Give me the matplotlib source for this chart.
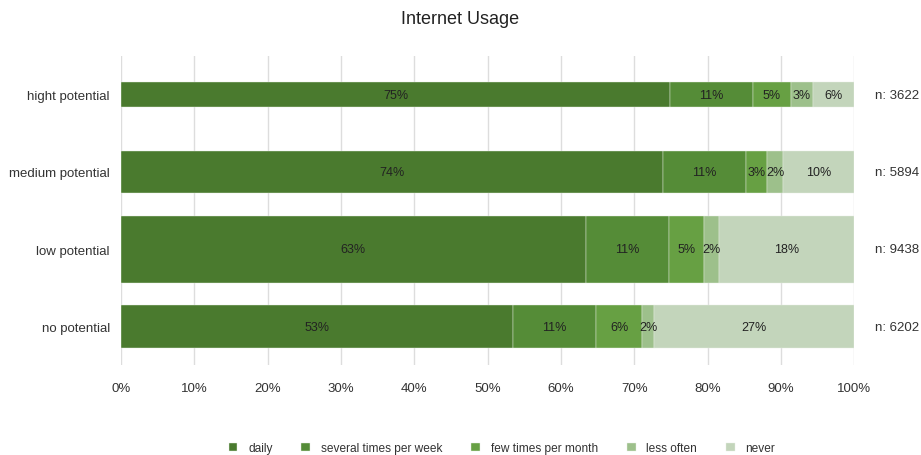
import matplotlib.pyplot as plt
import numpy as np

plt.rcParams['font.family'] = ['Liberation Sans', 'DejaVu Sans']

# data (percent of respondents)
groups = ["hight potential", "medium potential", "low potential", "no potential"]
n_sizes = [3622, 5894, 9438, 6202]
categories = ["daily", "several times per week", "few times per month", "less often", "never"]
daily = [74.9, 73.9, 63.4, 53.4]
several = [11.3, 11.4, 11.4, 11.4]
few = [5.2, 2.8, 4.7, 6.3]
less = [3.0, 2.2, 2.1, 1.6]
never = [5.6, 9.7, 18.4, 27.3]

colors = ["#4a7a2e", "#558c37", "#67a043", "#9dc08b", "#c3d5bb"]

fig = plt.figure(figsize=(9.21, 4.56), dpi=100)
ax = fig.add_axes([0.1314, 0.197, 0.796, 0.678])

y = np.arange(len(groups))
heights = np.array(n_sizes) / max(n_sizes) * 0.865

series = [daily, several, few, less, never]
left = np.zeros(len(groups))
for vals, col, name in zip(series, colors, categories):
    vals = np.array(vals)
    ax.barh(y, vals, left=left, height=heights, color=col, label=name,
            edgecolor="#e8eee4", linewidth=0.3, zorder=2)
    for yi, l, v in zip(y, left, vals):
        ax.text(l + v / 2, yi, f"{round(v):.0f}%", ha="center", va="center",
                fontsize=9, color="#222222", zorder=3)
    left += vals

for yi, n in zip(y, n_sizes):
    ax.text(102.8, yi, f"n: {n}", ha="left", va="center", fontsize=9.5, color="#333333")

ax.set_xlim(0, 100)
ax.set_ylim(len(groups) - 0.5, -0.5)
ax.set_yticks(y)
ax.set_yticklabels(groups, fontsize=9.5, color="#333333")
ax.set_xticks(np.arange(0, 101, 10))
ax.set_xticklabels([f"{t}%" for t in range(0, 101, 10)], fontsize=9.5, color="#333333")
ax.tick_params(axis="both", length=0, pad=8)
ax.tick_params(axis="x", pad=12)
ax.grid(axis="x", color="#dddddd", linewidth=1, zorder=0)
for s in ax.spines.values():
    s.set_visible(False)

fig.suptitle("Internet Usage", y=0.975, fontsize=13, color="#222222")

leg = fig.legend(loc="lower center", bbox_to_anchor=(0.545, -0.022), ncol=5, frameon=False,
                 fontsize=8.6, handlelength=0.75, handleheight=0.75, columnspacing=2.4,
                 handletextpad=0.9)
for t in leg.get_texts():
    t.set_color("#333333")

fig.savefig("out.png", dpi=100)
